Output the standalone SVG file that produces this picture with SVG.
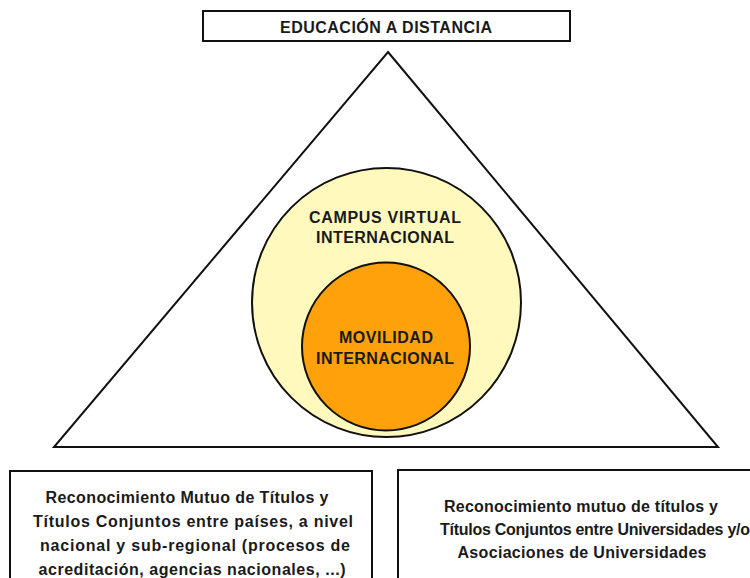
<svg xmlns="http://www.w3.org/2000/svg" width="750" height="578" viewBox="0 0 750 578">
<style>
.box{fill:#fff;stroke:#111;stroke-width:2}
.t{font-family:"Liberation Sans",Arial,sans-serif;font-weight:bold;font-size:16px;fill:#1a1a1a;text-anchor:middle}
</style>
<rect width="750" height="578" fill="#fff"/>
<g id="triangle">
<polygon points="388,52 718,447 54,447" fill="none" stroke="#111" stroke-width="2"/>
</g>
<g id="connectors"></g>
<g id="top">
<rect class="box" x="203" y="11" width="367" height="30"/>
<text class="t" x="386" y="33" textLength="212" lengthAdjust="spacing">EDUCACIÓN A DISTANCIA</text>
</g>
<g id="campus">
<circle cx="386.5" cy="302.5" r="134.5" fill="#FFF9BE" stroke="#111" stroke-width="2"/>
<text class="t" x="385" y="223" textLength="152" lengthAdjust="spacing">CAMPUS VIRTUAL</text>
<text class="t" x="385" y="243" textLength="138" lengthAdjust="spacing">INTERNACIONAL</text>
</g>
<g id="movilidad">
<circle cx="386" cy="346.5" r="84" fill="#FFA10A" stroke="#111" stroke-width="2"/>
<text class="t" x="386" y="343" textLength="94" lengthAdjust="spacing">MOVILIDAD</text>
<text class="t" x="385" y="364" textLength="138" lengthAdjust="spacing">INTERNACIONAL</text>
</g>
<g id="left">
<rect class="box" x="10" y="471" width="362" height="120"/>
<text class="t" x="187" y="503" textLength="283" lengthAdjust="spacing">Reconocimiento Mutuo de Títulos y</text>
<text class="t" x="193" y="527" textLength="320" lengthAdjust="spacing">Títulos Conjuntos entre países, a nivel</text>
<text class="t" x="195" y="551" textLength="310" lengthAdjust="spacing">nacional y sub-regional (procesos de</text>
<text class="t" x="192" y="575" textLength="307" lengthAdjust="spacing">acreditación, agencias nacionales, ...)</text>
</g>
<g id="right">
<rect class="box" x="398" y="470" width="360" height="120"/>
<text class="t" x="581" y="512" textLength="274" lengthAdjust="spacing">Reconocimiento mutuo de títulos y</text>
<text class="t" x="595" y="535" textLength="310" lengthAdjust="spacing">Títulos Conjuntos entre Universidades y/o</text>
<text class="t" x="582" y="558" textLength="249" lengthAdjust="spacing">Asociaciones de Universidades</text>
</g>
</svg>
